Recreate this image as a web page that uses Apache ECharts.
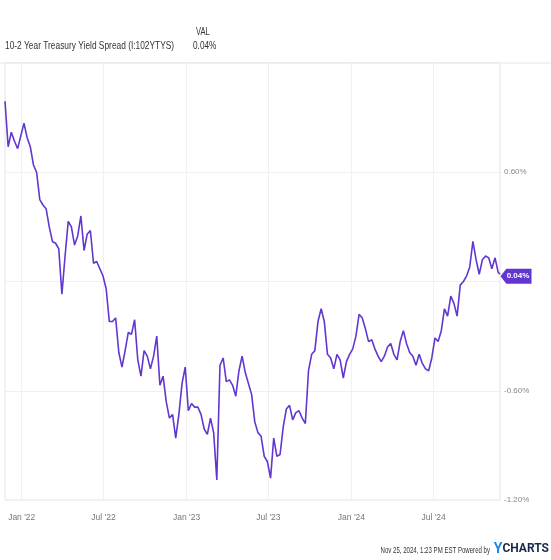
<!DOCTYPE html>
<html>
<head>
<meta charset="utf-8">
<script src="https://cdn.jsdelivr.net/npm/echarts@6/dist/echarts.min.js"></script>
<style>
  html, body { margin: 0; padding: 0; background: #fff; }
  #chart { width: 551px; height: 560px; }
</style>
</head>
<body>
<div id="chart"></div>
<script>
// weekly readings of the 10-2 spread (%), starting Nov 25 2021
const startDate = "2021-11-25";
const spread = [
  0.99, 0.74, 0.82, 0.77, 0.73, 0.80, 0.87, 0.79, 0.74, 0.64,
  0.60, 0.45, 0.42, 0.40, 0.30, 0.22, 0.21, 0.18, -0.07, 0.14,
  0.33, 0.30, 0.20, 0.25, 0.36, 0.17, 0.26, 0.28, 0.10, 0.11,
  0.07, 0.03, -0.04, -0.22, -0.22, -0.20, -0.39, -0.47, -0.38, -0.28,
  -0.29, -0.21, -0.43, -0.52, -0.38, -0.41, -0.48, -0.41, -0.30, -0.57,
  -0.52, -0.66, -0.75, -0.73, -0.86, -0.73, -0.56, -0.47, -0.71, -0.67,
  -0.69, -0.69, -0.73, -0.81, -0.84, -0.75, -0.83, -1.09, -0.46, -0.42,
  -0.55, -0.54, -0.57, -0.63, -0.49, -0.41, -0.50, -0.56, -0.62, -0.77,
  -0.83, -0.85, -0.96, -0.99, -1.08, -0.86, -0.96, -0.95, -0.80, -0.70,
  -0.68, -0.76, -0.72, -0.71, -0.75, -0.78, -0.49, -0.40, -0.38, -0.22,
  -0.15, -0.22, -0.40, -0.42, -0.48, -0.40, -0.43, -0.53, -0.44, -0.40,
  -0.37, -0.30, -0.18, -0.20, -0.26, -0.33, -0.32, -0.37, -0.41, -0.44,
  -0.41, -0.36, -0.34, -0.40, -0.43, -0.33, -0.27, -0.34, -0.39, -0.41,
  -0.46, -0.40, -0.45, -0.48, -0.49, -0.42, -0.31, -0.33, -0.27, -0.15,
  -0.19, -0.08, -0.12, -0.19, -0.02, 0.00, 0.03, 0.08, 0.22, 0.12,
  0.04, 0.12, 0.14, 0.13, 0.07, 0.13, 0.05
];
const lastDate = "2024-11-25";
const lastValue = 0.04;

const yTicks = [-1.2, -0.6, 0, 0.6, 1.2];
const hiddenYTicks = [0, 1.2]; // top edge and the one under the value flag
const monthNames = ["Jan","Feb","Mar","Apr","May","Jun","Jul","Aug","Sep","Oct","Nov","Dec"];

const seriesName = "10-2 Year Treasury Yield Spread (I:102YTYS)";
const stamp = "Nov 25, 2024, 1:23 PM EST Powered by";
const purple = "#6236d1";
const sans = "'Liberation Sans', Arial, sans-serif";

const t0 = Date.parse(startDate + "T00:00:00Z");
const points = spread.map((v, i) => [t0 + i * 7 * 86400000, v]);
const tLast = Date.parse(lastDate + "T00:00:00Z");
points.push([tLast, lastValue]);

const chart = echarts.init(document.getElementById("chart"), null, { renderer: "canvas" });

// header and footer use a squeezed sans to mimic the condensed face of the original
const squeezed = (text, x, y, font, align, sx) => ({
  type: "text",
  x: x, y: y, scaleX: sx,
  style: { text: text, font: font, fill: "#333", align: align, verticalAlign: "middle" }
});

const option = {
  animation: false,
  useUTC: true,
  backgroundColor: "#fff",
  grid: { left: 5, right: 51, top: 63, bottom: 60, show: true, borderColor: "#e4e4e4", borderWidth: 1 },
  graphic: [
    { type: "line", shape: { x1: 0, y1: 63, x2: 551, y2: 63 }, style: { stroke: "#e4e4e4", lineWidth: 1 } },
    squeezed("VAL", 196, 32, "10px " + sans, "left", 0.75),
    squeezed(seriesName, 5, 46, "11px " + sans, "left", 0.76),
    squeezed(lastValue.toFixed(2) + "%", 193, 46, "11px " + sans, "left", 0.75),
    squeezed(stamp, 490, 550, "9.5px " + sans, "right", 0.64),
    {
      type: "text",
      x: 549, y: 549,
      style: {
        text: "{y|Y}{c|CHARTS}",
        align: "right",
        verticalAlign: "middle",
        rich: {
          y: { fontFamily: "Roboto, sans-serif", fontWeight: "bold", fontSize: 14, fill: "#1e88e5" },
          c: { fontFamily: "Roboto, sans-serif", fontWeight: "bold", fontSize: 12, fill: "#1b2a4a" }
        }
      }
    }
  ],
  xAxis: {
    type: "time",
    min: t0,
    max: tLast,
    splitNumber: 6,
    axisLine: { show: false },
    axisTick: { show: false },
    axisLabel: {
      showMinLabel: false,
      showMaxLabel: false,
      margin: 13,
      fontFamily: sans,
      fontSize: 8.5,
      color: "#777",
      formatter: (v) => {
        const d = new Date(v);
        return monthNames[d.getUTCMonth()] + " '" + String(d.getUTCFullYear()).slice(2);
      }
    },
    splitLine: { show: true, lineStyle: { color: "#f1f1f1" } }
  },
  yAxis: {
    type: "value",
    position: "right",
    min: yTicks[0],
    max: yTicks[yTicks.length - 1],
    interval: 0.6,
    axisLine: { show: false },
    axisTick: { show: false },
    axisLabel: {
      margin: 4,
      fontFamily: sans,
      fontSize: 8,
      color: "#888",
      formatter: (v) => hiddenYTicks.some((h) => Math.abs(h - v) < 1e-9) ? "" : v.toFixed(2) + "%"
    },
    splitLine: { show: true, lineStyle: { color: "#efefef" } }
  },
  series: [
    {
      name: seriesName,
      type: "line",
      data: points,
      showSymbol: false,
      lineStyle: { color: purple, width: 1.6 },
      itemStyle: { color: purple },
      markPoint: {
        silent: true,
        symbol: "path://M0,7.5L6,0H32V15H6Z",
        symbolSize: [31, 15],
        symbolKeepAspect: false,
        symbolOffset: [16, 2],
        itemStyle: { color: purple },
        label: {
          show: true,
          offset: [2, 0],
          color: "#fff",
          fontFamily: sans,
          fontWeight: "bold",
          fontSize: 8,
          formatter: () => lastValue.toFixed(2) + "%"
        },
        data: [{ coord: [tLast, lastValue] }]
      }
    }
  ]
};

chart.setOption(option);
</script>
</body>
</html>
